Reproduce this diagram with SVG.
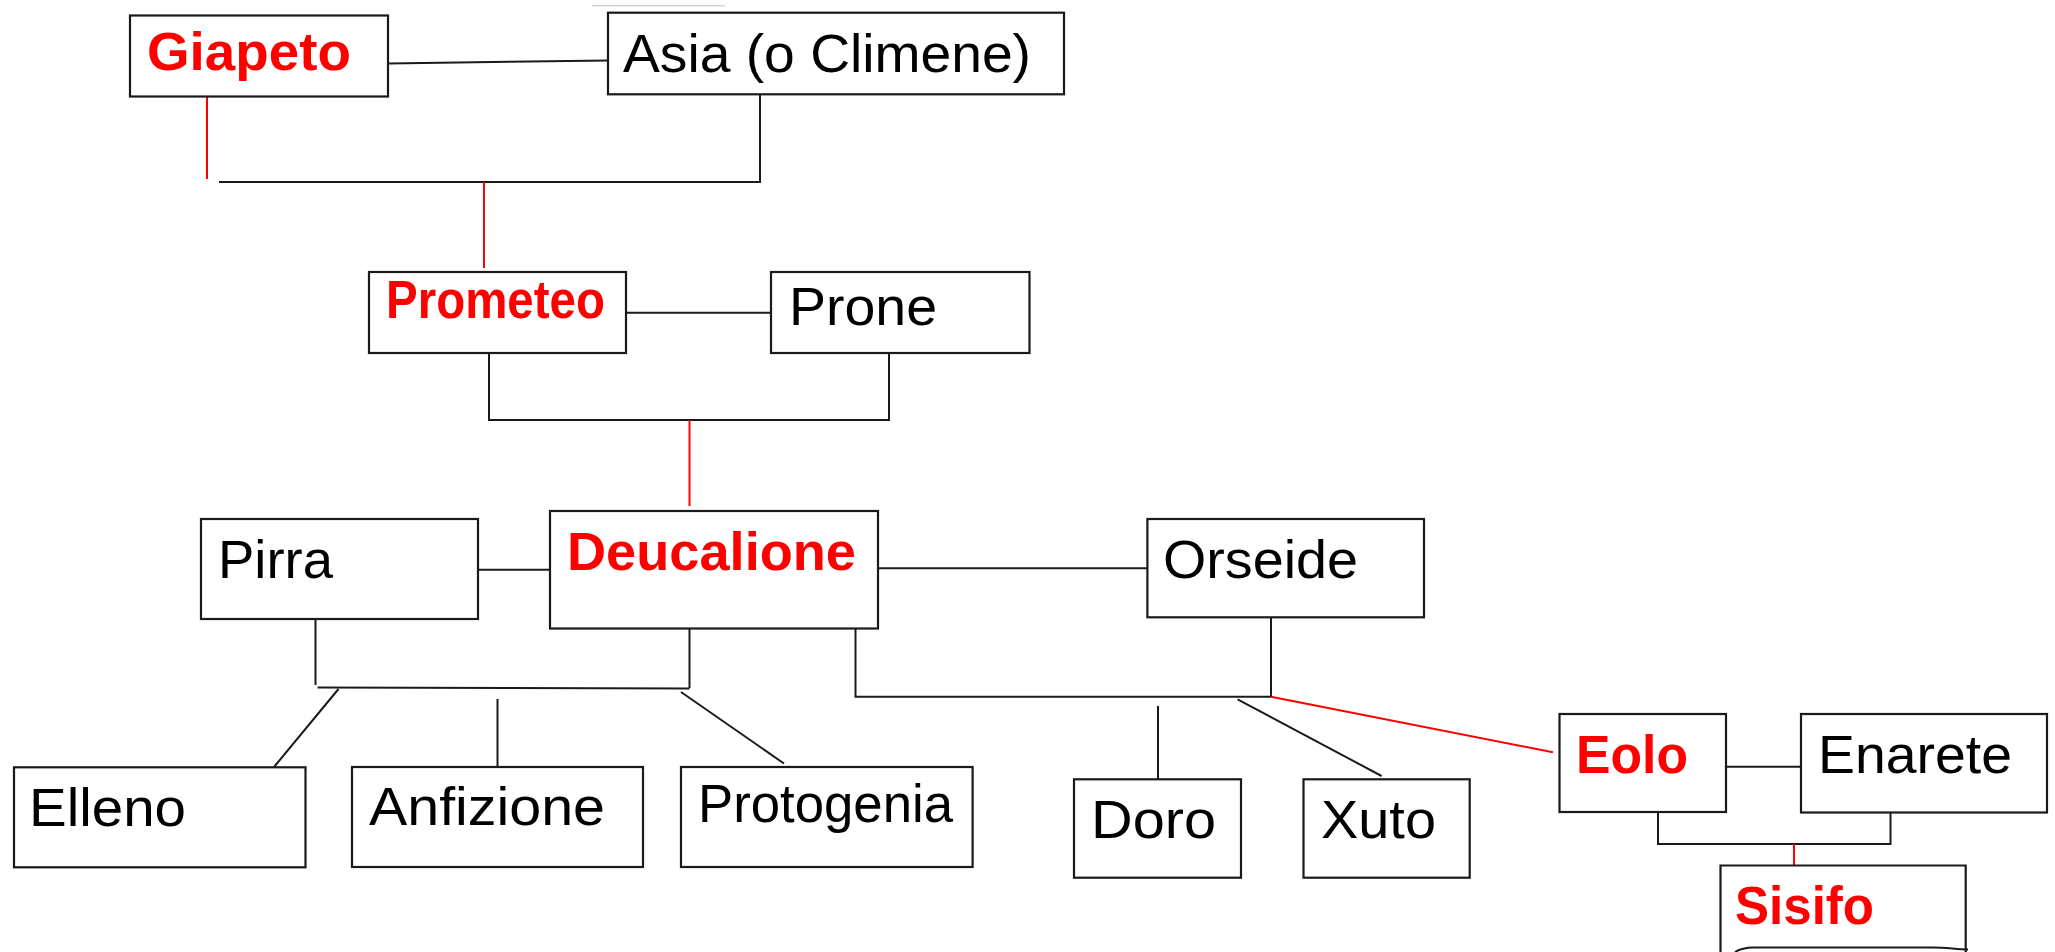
<svg xmlns="http://www.w3.org/2000/svg" width="2055" height="952" viewBox="0 0 2055 952">
<style>
.box{fill:#fff;stroke:#1a1a1a;stroke-width:2.2}
.t{font-family:"Liberation Sans",Arial,sans-serif;font-size:54px;fill:#000}
.r{font-family:"Liberation Sans",Arial,sans-serif;font-size:54px;font-weight:bold;fill:#ff0000}
.k{stroke:#1a1a1a;stroke-width:2;fill:none}
.red{stroke:#ff0000;stroke-width:2;fill:none}
</style>
<rect width="2055" height="952" fill="#fff"/>
<line x1="592" y1="5.7" x2="725" y2="5.7" stroke="#d4d4d4" stroke-width="1.5"/>
<g id="connectors">
<line class="k" x1="388" y1="63.5" x2="608" y2="60.5"/>
<polyline class="k" points="219,182 760,182 760,94.5"/>
<line class="red" x1="207" y1="96.7" x2="207" y2="179"/>
<line class="red" x1="484" y1="182" x2="484" y2="268"/>
<line class="k" x1="626" y1="312.7" x2="771" y2="312.7"/>
<polyline class="k" points="489,353 489,420 889,420 889,353"/>
<line class="red" x1="689.5" y1="420" x2="689.5" y2="506"/>
<line class="k" x1="478" y1="569.7" x2="550" y2="569.7"/>
<line class="k" x1="878" y1="568.3" x2="1147" y2="568.3"/>
<line class="k" x1="315.5" y1="619" x2="315.5" y2="685"/>
<line class="k" x1="689.5" y1="624" x2="689.5" y2="688"/>
<line class="k" x1="317.5" y1="687.5" x2="689.5" y2="688.5"/>
<line class="k" x1="338.5" y1="689" x2="274" y2="767"/>
<line class="k" x1="497.5" y1="699" x2="497.5" y2="767"/>
<line class="k" x1="681" y1="692" x2="784" y2="763.5"/>
<polyline class="k" points="855.5,628.5 855.5,696.7 1271,696.7 1271,617.3"/>
<line class="k" x1="1158" y1="706" x2="1158" y2="779"/>
<line class="k" x1="1237.6" y1="699.3" x2="1381.6" y2="776"/>
<line class="red" x1="1271" y1="696.7" x2="1553" y2="752.3"/>
<line class="k" x1="1726" y1="766.7" x2="1801" y2="766.7"/>
<polyline class="k" points="1658,812.5 1658,844 1890.5,844 1890.5,812.5"/>
<line class="red" x1="1794" y1="844" x2="1794" y2="865.7"/>
</g>
<g id="giapeto"><rect class="box" x="130" y="15.5" width="258" height="81"/><text class="r" x="147" y="69.5" textLength="204" lengthAdjust="spacingAndGlyphs">Giapeto</text></g>
<g id="asia"><rect class="box" x="608" y="12.7" width="456" height="81.6"/><text class="t" x="623" y="71.7" font-size="53" textLength="408" lengthAdjust="spacingAndGlyphs">Asia (o Climene)</text></g>
<g id="prometeo"><rect class="box" x="369" y="272" width="257" height="81"/><text class="r" x="386" y="318.3" font-size="44" textLength="219" lengthAdjust="spacingAndGlyphs">Prometeo</text></g>
<g id="prone"><rect class="box" x="771" y="272" width="258.5" height="81"/><text class="t" x="789" y="325" font-size="53" textLength="148" lengthAdjust="spacingAndGlyphs">Prone</text></g>
<g id="pirra"><rect class="box" x="201" y="519" width="277" height="100"/><text class="t" x="218" y="577.7" textLength="115" lengthAdjust="spacingAndGlyphs">Pirra</text></g>
<g id="deucalione"><rect class="box" x="550" y="511" width="328" height="117.5"/><text class="r" x="567" y="570" textLength="289" lengthAdjust="spacingAndGlyphs">Deucalione</text></g>
<g id="orseide"><rect class="box" x="1147.4" y="519" width="276.6" height="98.3"/><text class="t" x="1163" y="578.3" textLength="195" lengthAdjust="spacingAndGlyphs">Orseide</text></g>
<g id="elleno"><rect class="box" x="14" y="767.3" width="291.5" height="100"/><text class="t" x="29" y="825.7" textLength="157" lengthAdjust="spacingAndGlyphs">Elleno</text></g>
<g id="anfizione"><rect class="box" x="352" y="767" width="291" height="100"/><text class="t" x="369" y="825" textLength="236" lengthAdjust="spacingAndGlyphs">Anfizione</text></g>
<g id="protogenia"><rect class="box" x="681" y="767" width="291.6" height="100"/><text class="t" x="698" y="821.7" font-size="50" textLength="255" lengthAdjust="spacingAndGlyphs">Protogenia</text></g>
<g id="doro"><rect class="box" x="1074" y="779.3" width="167" height="98.4"/><text class="t" x="1091" y="837.7" textLength="125" lengthAdjust="spacingAndGlyphs">Doro</text></g>
<g id="xuto"><rect class="box" x="1303.5" y="779.3" width="166.2" height="98.4"/><text class="t" x="1321" y="837.7" textLength="115" lengthAdjust="spacingAndGlyphs">Xuto</text></g>
<g id="eolo"><rect class="box" x="1559.5" y="714" width="166.5" height="98"/><text class="r" x="1576" y="772.7" textLength="112" lengthAdjust="spacingAndGlyphs">Eolo</text></g>
<g id="enarete"><rect class="box" x="1801" y="714" width="246" height="98.5"/><text class="t" x="1818" y="772.7" textLength="194" lengthAdjust="spacingAndGlyphs">Enarete</text></g>
<g id="sisifo"><path class="box" d="M1720.5,952 V865.5 H1965.7 V952"/><path class="k" d="M1735,952 C1740,949 1746,947.5 1753,947.5 L1933,947.5 C1948,947.5 1956,949.5 1968,949.5"/><text class="r" x="1735" y="924" textLength="139" lengthAdjust="spacingAndGlyphs">Sisifo</text></g>
</svg>
